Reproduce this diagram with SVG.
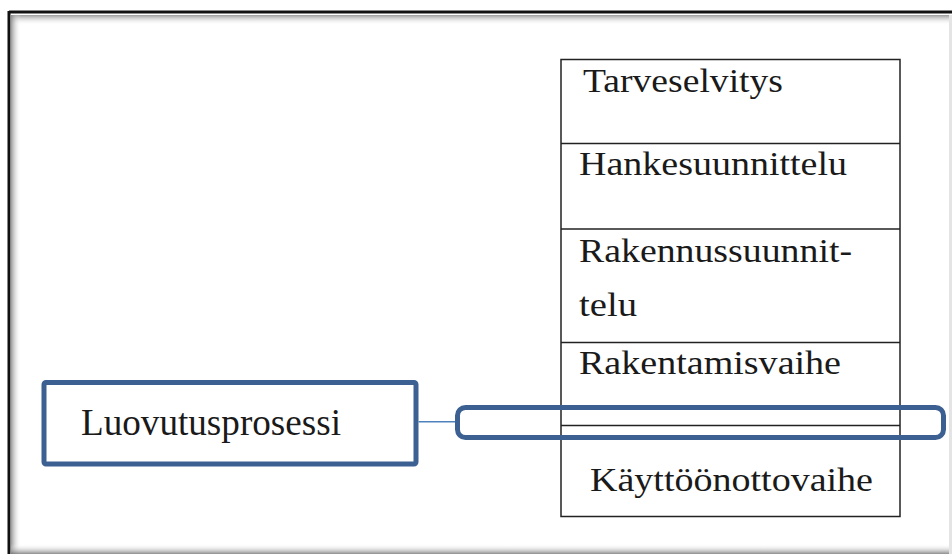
<svg xmlns="http://www.w3.org/2000/svg" width="952" height="554" viewBox="0 0 952 554">
<defs>
<linearGradient id="gTop" x1="0" y1="0" x2="0" y2="1"><stop offset="0" stop-color="#808080" stop-opacity="0.8"/><stop offset="1" stop-color="#ffffff" stop-opacity="0"/></linearGradient>
<linearGradient id="gLeft" x1="0" y1="0" x2="1" y2="0"><stop offset="0" stop-color="#808080" stop-opacity="0.8"/><stop offset="1" stop-color="#ffffff" stop-opacity="0"/></linearGradient>
<linearGradient id="gBot" x1="0" y1="1" x2="0" y2="0"><stop offset="0" stop-color="#707070" stop-opacity="0.8"/><stop offset="1" stop-color="#ffffff" stop-opacity="0"/></linearGradient>
</defs>
<style>
.cell{fill:none;stroke:#222;stroke-width:1.5}
.t{font-family:"Liberation Serif","Times New Roman",serif;font-size:33px;fill:#1a1a1a}
.big{font-size:37px}
.blue{fill:none;stroke:#3b6091;stroke-width:5}
.conn{stroke:#4f81bd;stroke-width:1.5;fill:none}
</style>
<rect width="952" height="554" fill="#fff"/>
<g id="frame">
<rect x="11" y="15" width="941" height="10" fill="url(#gTop)"/>
<rect x="11" y="15" width="10" height="539" fill="url(#gLeft)"/>
<rect x="11" y="544" width="941" height="10" fill="url(#gBot)"/>
<rect x="949" y="15" width="3" height="539" fill="#e4e4e4"/>
<line x1="9" y1="12" x2="952" y2="12" stroke="#111" stroke-width="3"/>
<line x1="9" y1="11" x2="9" y2="554" stroke="#111" stroke-width="3"/>
</g>
<g id="table">
<rect class="cell" x="561" y="59.5" width="339" height="457"/>
<line class="cell" x1="561" y1="143.5" x2="900" y2="143.5"/>
<line class="cell" x1="561" y1="229" x2="900" y2="229"/>
<line class="cell" x1="561" y1="342.5" x2="900" y2="342.5"/>
<line class="cell" x1="561" y1="425.5" x2="900" y2="425.5"/>
</g>
<g id="n1"><text class="t" x="583" y="92" textLength="200" lengthAdjust="spacingAndGlyphs">Tarveselvitys</text></g>
<g id="n2"><text class="t" x="579" y="175" textLength="268" lengthAdjust="spacingAndGlyphs">Hankesuunnittelu</text></g>
<g id="n3"><text class="t" x="579" y="262" textLength="273" lengthAdjust="spacingAndGlyphs">Rakennussuunnit-</text><text class="t" x="579" y="316" textLength="58" lengthAdjust="spacingAndGlyphs">telu</text></g>
<g id="n4"><text class="t" x="579" y="374" textLength="262" lengthAdjust="spacingAndGlyphs">Rakentamisvaihe</text></g>
<g id="n5"><text class="t" x="590" y="491" textLength="283" lengthAdjust="spacingAndGlyphs">Käyttöönottovaihe</text></g>
<g id="highlight"><rect class="blue" x="457.5" y="407.5" width="486" height="30" rx="8"/></g>
<g id="n6"><rect class="blue" x="44" y="382.5" width="372" height="81.5" rx="2"/><text class="t big" x="81" y="435" textLength="260" lengthAdjust="spacingAndGlyphs">Luovutusprosessi</text></g>
<g id="connectors"><line class="conn" x1="418.5" y1="421.7" x2="455" y2="421.7"/></g>
</svg>
